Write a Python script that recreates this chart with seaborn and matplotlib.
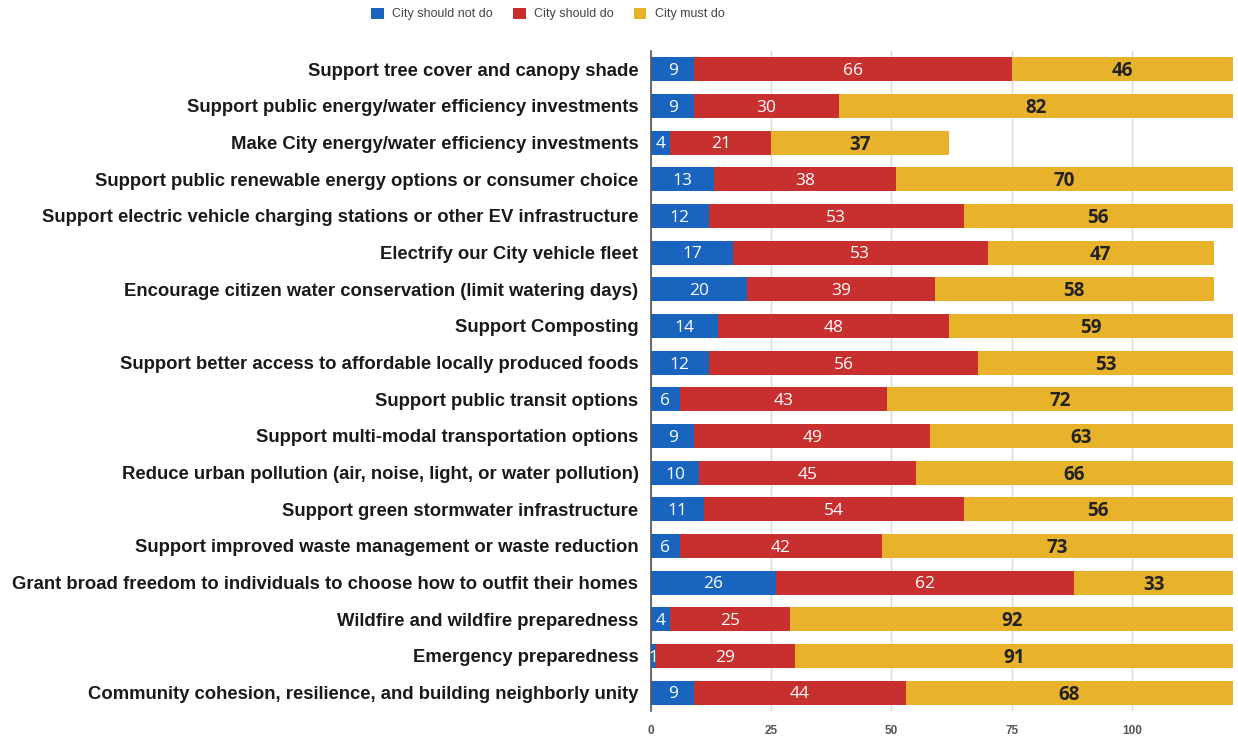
import matplotlib
matplotlib.use("Agg")
import matplotlib.pyplot as plt
from matplotlib.patches import Patch
import numpy as np
import pandas as pd
import seaborn as sns

categories = [
    "Support tree cover and canopy shade",
    "Support public energy/water efficiency investments",
    "Make City energy/water efficiency investments",
    "Support public renewable energy options or consumer choice",
    "Support electric vehicle charging stations or other EV infrastructure",
    "Electrify our City vehicle fleet",
    "Encourage citizen water conservation (limit watering days)",
    "Support Composting",
    "Support better access to affordable locally produced foods",
    "Support public transit options",
    "Support multi-modal transportation options",
    "Reduce urban pollution (air, noise, light, or water pollution)",
    "Support green stormwater infrastructure",
    "Support improved waste management or waste reduction",
    "Grant broad freedom to individuals to choose how to outfit their homes",
    "Wildfire and wildfire preparedness",
    "Emergency preparedness",
    "Community cohesion, resilience, and building neighborly unity",
]
should_not = [9, 9, 4, 13, 12, 17, 20, 14, 12, 6, 9, 10, 11, 6, 26, 4, 1, 9]
should = [66, 30, 21, 38, 53, 53, 39, 48, 56, 43, 49, 45, 54, 42, 62, 25, 29, 44]
must = [46, 82, 37, 70, 56, 47, 58, 59, 53, 72, 63, 66, 56, 73, 33, 92, 91, 68]
series_names = ["City should not do", "City should do", "City must do"]
x_ticks = [0, 25, 50, 75, 100]

colors = ["#1864bf", "#c8302f", "#e8b22a"]

df = pd.DataFrame({"category": categories, "not": should_not, "should": should, "must": must})
df["c1"] = df["not"]
df["c2"] = df["not"] + df["should"]
df["c3"] = df["c2"] + df["must"]

sns.set_theme(style="white")
plt.rcParams["font.family"] = ["Liberation Sans", "DejaVu Sans"]

fig = plt.figure(figsize=(12.38, 7.4), dpi=100)
ax = fig.add_axes([651 / 1238, 1 - 711 / 740, (1233 - 651) / 1238, (711 - 51) / 740])

# stacked bars drawn as overlapping cumulative totals
for col, color in zip(["c3", "c2", "c1"], colors[::-1]):
    sns.barplot(data=df, x=col, y="category", orient="h", color=color,
                width=0.66, saturation=1, ax=ax, zorder=3, linewidth=0)

ax.set_xlim(0, 121)
ax.set_ylim(len(categories) - 0.5, -0.5)
ax.set_xticks(x_ticks)
ax.set_xticklabels([str(t) for t in x_ticks], fontsize=8.5, fontweight="bold", color="#555555")
ax.tick_params(axis="x", length=0, pad=10)
ax.tick_params(axis="y", length=0, pad=9)
ax.set_yticks(range(len(categories)))
ax.set_yticklabels(categories, fontsize=13.3, fontweight="bold", color="#1a1a1a")
ax.set_xlabel("")
ax.set_ylabel("")
ax.grid(axis="x", color="#d9d9d9", linewidth=1, zorder=0)
for s in ["top", "right", "bottom"]:
    ax.spines[s].set_visible(False)
ax.spines["left"].set_color("#555555")
ax.spines["left"].set_linewidth(1.2)
ax.spines["left"].set_zorder(5)

# value labels centred in each segment
for i in range(len(categories)):
    starts = [0, should_not[i], should_not[i] + should[i]]
    vals = [should_not[i], should[i], must[i]]
    for j, (st, v) in enumerate(zip(starts, vals)):
        end = min(st + v, 121)
        cx = (st + end) / 2
        if j < 2:
            ax.text(cx, i + 0.05, str(v), ha="center", va="center", color="white",
                    fontsize=12.5, family="Open Sans", zorder=6)
        else:
            ax.text(cx, i + 0.05, str(v), ha="center", va="center", color="#222222",
                    fontsize=13.5, family="Open Sans", fontweight="bold", zorder=6)

handles = [Patch(facecolor=c, edgecolor="none") for c in colors]
fig.legend(handles, series_names, loc="center", bbox_to_anchor=(548 / 1238, 1 - 14 / 740),
           ncol=3, frameon=False, fontsize=9, labelcolor="#444444",
           handlelength=1.0, handleheight=1.0, handletextpad=0.7, columnspacing=1.6)

fig.savefig("out.png", dpi=100)
